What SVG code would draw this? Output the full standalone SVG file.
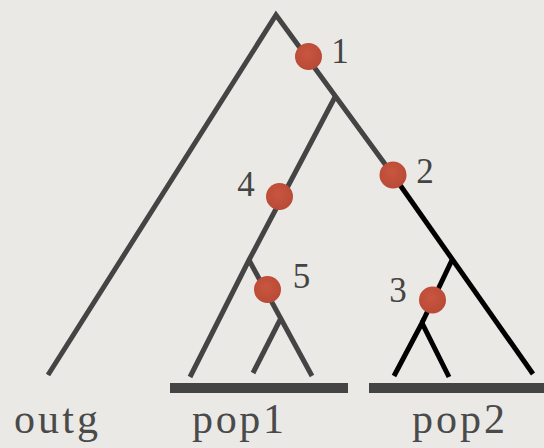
<svg xmlns="http://www.w3.org/2000/svg" width="544" height="448" viewBox="0 0 544 448">
<defs>
<radialGradient id="dotg" cx="0.45" cy="0.4" r="0.6">
<stop offset="0" stop-color="#c9563f"/>
<stop offset="1" stop-color="#b84a36"/>
</radialGradient>
</defs>
<style>
.grey{stroke:#444;stroke-width:5;fill:none;stroke-linecap:butt}
.blk{stroke:#000;stroke-width:5;fill:none;stroke-linecap:butt}
.bar{fill:#444}
.dot{fill:url(#dotg)}
.num{font-family:"Liberation Serif",serif;font-size:35px;fill:#444;text-anchor:middle}
.lab{font-family:"Liberation Serif",serif;font-size:42px;fill:#4a4a4a}
</style>
<rect width="544" height="448" fill="#ebe9e5"/>
<g id="connectors">
<polyline class="grey" points="48,375 276,15 393,175"/>
<line class="blk" x1="393" y1="175" x2="533" y2="374"/>
<polyline class="grey" points="335,97 249,260 190,377"/>
<line class="grey" x1="249" y1="260" x2="312" y2="376"/>
<line class="grey" x1="281" y1="318" x2="253" y2="373"/>
<line class="blk" x1="452" y1="260" x2="422" y2="323"/>
<polyline class="blk" points="394,376 422,323 449,377"/>
</g>
<g id="bars">
<rect class="bar" x="170" y="383" width="178" height="10"/>
<rect class="bar" x="369" y="383" width="175" height="10"/>
</g>
<g id="event1"><circle class="dot" cx="308.5" cy="56.5" r="13.5"/><text class="num" x="340" y="63">1</text></g>
<g id="event2"><circle class="dot" cx="393" cy="175" r="13.5"/><text class="num" x="425" y="183">2</text></g>
<g id="event3"><circle class="dot" cx="432.5" cy="300" r="13.5"/><text class="num" x="398" y="302">3</text></g>
<g id="event4"><circle class="dot" cx="279.5" cy="196.5" r="13.5"/><text class="num" x="246" y="196">4</text></g>
<g id="event5"><circle class="dot" cx="267.5" cy="289.5" r="13.5"/><text class="num" x="301.5" y="288">5</text></g>
<g id="outg"><text class="lab" x="14" y="433" textLength="84" lengthAdjust="spacing">outg</text></g>
<g id="pop1"><text class="lab" x="192" y="433" textLength="92" lengthAdjust="spacing">pop1</text></g>
<g id="pop2"><text class="lab" x="412" y="433" textLength="93" lengthAdjust="spacing">pop2</text></g>
</svg>
